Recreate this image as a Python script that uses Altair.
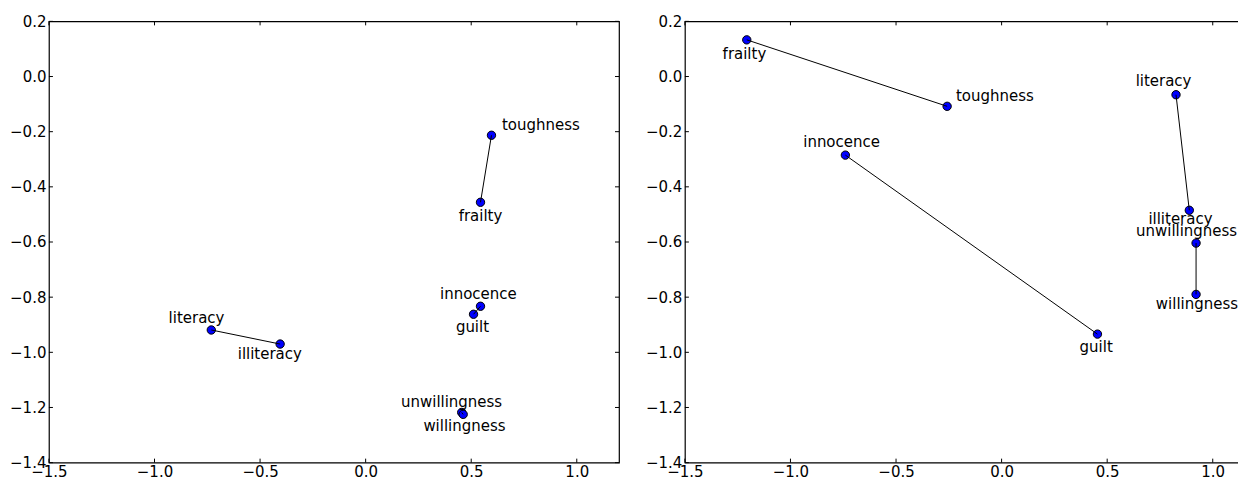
import altair as alt
import pandas as pd

# ---- data ----
words = ["toughness", "frailty", "innocence", "guilt",
         "literacy", "illiteracy", "unwillingness", "willingness"]
pair_ids = ["tough", "tough", "inno", "inno", "lit", "lit", "will", "will"]

# left panel: point coordinates
left_x = [0.596, 0.544, 0.544, 0.511, -0.731, -0.405, 0.455, 0.462]
left_y = [-0.213, -0.456, -0.833, -0.862, -0.919, -0.970, -1.218, -1.225]
# left panel: label anchor coordinates (text centres)
left_lx = [0.830, 0.544, 0.534, 0.506, -0.801, -0.454, 0.407, 0.468]
left_ly = [-0.177, -0.506, -0.788, -0.908, -0.875, -1.005, -1.179, -1.266]

# right panel: point coordinates
right_x = [-0.258, -1.207, -0.740, 0.454, 0.826, 0.889, 0.921, 0.921]
right_y = [-0.108, 0.133, -0.285, -0.934, -0.066, -0.485, -0.604, -0.790]
# right panel: label anchor coordinates (text centres)
right_lx = [-0.032, -1.218, -0.758, 0.448, 0.767, 0.847, 0.876, 0.925]
right_ly = [-0.072, 0.083, -0.239, -0.980, -0.018, -0.517, -0.561, -0.825]

x_ticks = [-1.5, -1.0, -0.5, 0.0, 0.5, 1.0]
y_ticks = [-1.4, -1.2, -1.0, -0.8, -0.6, -0.4, -0.2, 0.0, 0.2]
x_domain = [-1.5, 1.2]
y_domain = [-1.4, 0.2]

W, H = 571, 442
TICK = 4
FONT = "DejaVu Sans"
FS = 15


def panel(px, py, lx, ly):
    df = pd.DataFrame({"word": words, "pair": pair_ids, "x": px, "y": py,
                       "lx": lx, "ly": ly, "ord": list(range(len(words)))})
    xs = alt.Scale(domain=x_domain, nice=False, zero=False)
    ys = alt.Scale(domain=y_domain, nice=False, zero=False)
    xaxis = alt.Axis(values=x_ticks, format=".1f", ticks=False, domain=False,
                     grid=False, labelPadding=2, labelFlush=False,
                     labelFont=FONT, labelFontSize=FS, labelColor="black")
    yaxis = alt.Axis(values=y_ticks, format=".1f", ticks=False, domain=False,
                     grid=False, labelPadding=3, labelFlush=False,
                     labelFont=FONT, labelFontSize=FS, labelColor="black")

    X = lambda f: alt.X(f, scale=xs, axis=xaxis, title=None)
    Y = lambda f: alt.Y(f, scale=ys, axis=yaxis, title=None)

    pts = alt.Chart(df).mark_circle(
        color="#0000ff", stroke="black", strokeWidth=1, size=70, opacity=1
    ).encode(x=X("x:Q"), y=Y("y:Q"))
    lines = alt.Chart(df).mark_line(color="black", strokeWidth=1).encode(
        x=X("x:Q"), y=Y("y:Q"), detail="pair:N", order="ord:Q")
    labels = alt.Chart(df).mark_text(
        font=FONT, fontSize=FS, color="black", align="center", baseline="middle"
    ).encode(x=X("lx:Q"), y=Y("ly:Q"), text="word:N")

    xt = pd.DataFrame({"t": x_ticks})
    yt = pd.DataFrame({"t": y_ticks})
    tick_style = dict(color="black", strokeWidth=1)
    xb = alt.Chart(xt).mark_rule(**tick_style).encode(
        x=X("t:Q"), y=alt.value(H), y2=alt.value(H - TICK))
    xtop = alt.Chart(xt).mark_rule(**tick_style).encode(
        x=X("t:Q"), y=alt.value(0), y2=alt.value(TICK))
    yl = alt.Chart(yt).mark_rule(**tick_style).encode(
        y=Y("t:Q"), x=alt.value(0), x2=alt.value(TICK))
    yr = alt.Chart(yt).mark_rule(**tick_style).encode(
        y=Y("t:Q"), x=alt.value(W), x2=alt.value(W - TICK))

    return alt.layer(pts, lines, labels, xb, xtop, yl, yr).properties(
        width=W, height=H, view=alt.ViewBackground(stroke="black", strokeWidth=1.2))


chart = alt.hconcat(
    panel(left_x, left_y, left_lx, left_ly),
    panel(right_x, right_y, right_lx, right_ly),
    spacing=23,
).properties(
    padding={"left": 0, "top": 5, "right": -19, "bottom": -2}
).configure_view(
    stroke="black", strokeWidth=1.2
).configure(
    background="white"
)

chart.save("out.html", embed_options={"renderer": "svg", "actions": False})
